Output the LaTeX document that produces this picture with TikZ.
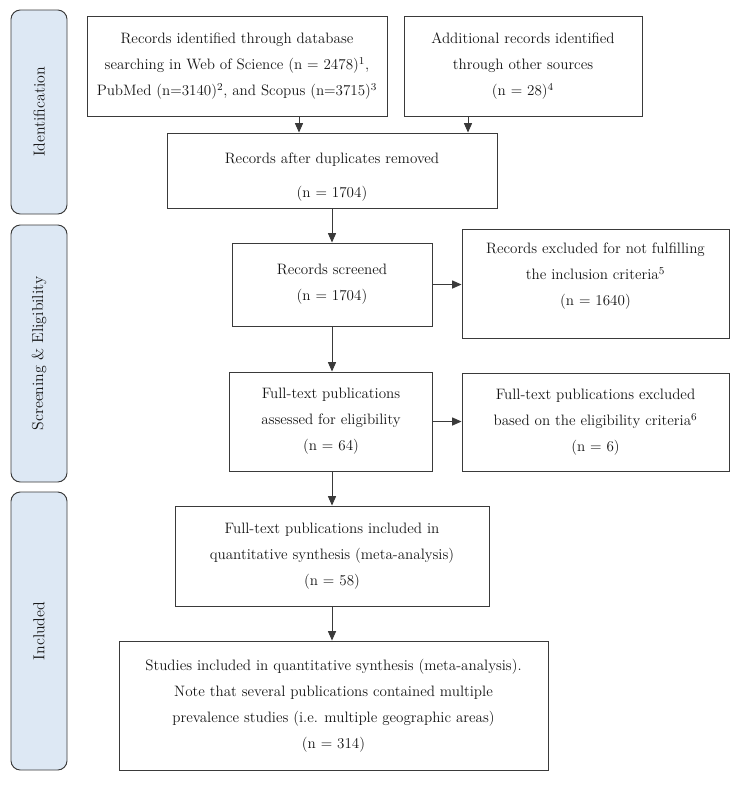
\documentclass[tikz,border=0pt]{standalone}
\usepackage{tikz}
\usetikzlibrary{arrows.meta}
\definecolor{fLine}{HTML}{3A3A3A}
\definecolor{fText}{HTML}{141414}
\definecolor{fPhase}{HTML}{DDE8F4}

\begin{document}
\begin{tikzpicture}[
  x=0.75pt, y=-0.75pt,
  box/.style={draw=fLine, line width=0.7pt, align=center, inner sep=0pt,
    text=fText, font=\fontsize{11.3}{19.5}\selectfont},
  phase/.style={draw=fLine, line width=0.7pt, fill=fPhase, rounded corners=7pt,
    rotate=90, minimum height=42pt, inner sep=0pt, text=fText,
    font=\fontsize{11.9}{14}\selectfont},
  arr/.style={draw=fLine, line width=0.7pt, -{Triangle[length=7pt,width=6pt]}},
]
  \useasboundingbox (0,0) rectangle (739,786);

  % phase labels on the left
  \node[phase, minimum width=153pt] (idlab) at (39,112) {Identification};
  \node[phase, minimum width=192.75pt] (sclab) at (39,353.5) {Screening \& Eligibility};
  \node[phase, minimum width=208.5pt] (inlab) at (39,631) {Included};

  % identification
  \node[box, minimum width=225pt, minimum height=75pt] (rec) at (237,66)
    {Records identified through database\\
     searching in Web of Science (n = 2478)\textsuperscript{1},\\
     PubMed (n=3140)\textsuperscript{2}, and Scopus (n=3715)\textsuperscript{3}};
  \node[box, minimum width=178.5pt, minimum height=75pt] (add) at (523,66)
    {Additional records identified\\
     through other sources\\
     (n = 28)\textsuperscript{4}};
  \node[box, minimum width=247.5pt, minimum height=56.25pt] (dup) at (332,170.5)
    {\mbox{}\\[-2pt]
     Records after duplicates removed\\[6pt]
     (n = 1704)};

  % screening and eligibility
  \node[box, minimum width=150pt, minimum height=62.25pt] (scr) at (332,284.5)
    {Records screened\\
     (n = 1704)};
  \node[box, minimum width=200.25pt, minimum height=81.75pt] (exc1) at (595.5,283.5)
    {Records excluded for not fulfilling\\
     the inclusion criteria\textsuperscript{5}\\
     (n = 1640)\\[-6pt]\mbox{}};
  \node[box, minimum width=152.25pt, minimum height=74.25pt] (full) at (331,421.5)
    {Full-text publications\\
     assessed for eligibility\\
     (n = 64)};
  \node[box, minimum width=200.25pt, minimum height=73.5pt] (exc2) at (595.5,422)
    {Full-text publications excluded\\
     based on the eligibility criteria\textsuperscript{6}\\
     (n = 6)};

  % included
  \node[box, minimum width=235.5pt, minimum height=75pt] (incl) at (332,556)
    {Full-text publications included in\\
     quantitative synthesis (meta-analysis)\\
     (n = 58)};
  \node[box, minimum width=321.75pt, minimum height=96.75pt] (stud) at (333.5,705.5)
    {Studies included in quantitative synthesis (meta-analysis).\\
     Note that several publications contained multiple\\
     prevalence studies (i.e. multiple geographic areas)\\
     (n = 314)};

  % connectors
  \draw[arr] (rec.south -| 299,0) -- (dup.north -| 299,0);
  \draw[arr] (add.south -| 468,0) -- (dup.north -| 468,0);
  \draw[arr] (dup.south) -- (scr.north);
  \draw[arr] (scr.east) -- (scr.east -| exc1.west);
  \draw[arr] (scr.south) -- (scr.south |- full.north);
  \draw[arr] (full.east) -- (full.east -| exc2.west);
  \draw[arr] (full.south -| scr.south) -- (scr.south |- incl.north);
  \draw[arr] (incl.south) -- (incl.south |- stud.north);
\end{tikzpicture}
\end{document}
